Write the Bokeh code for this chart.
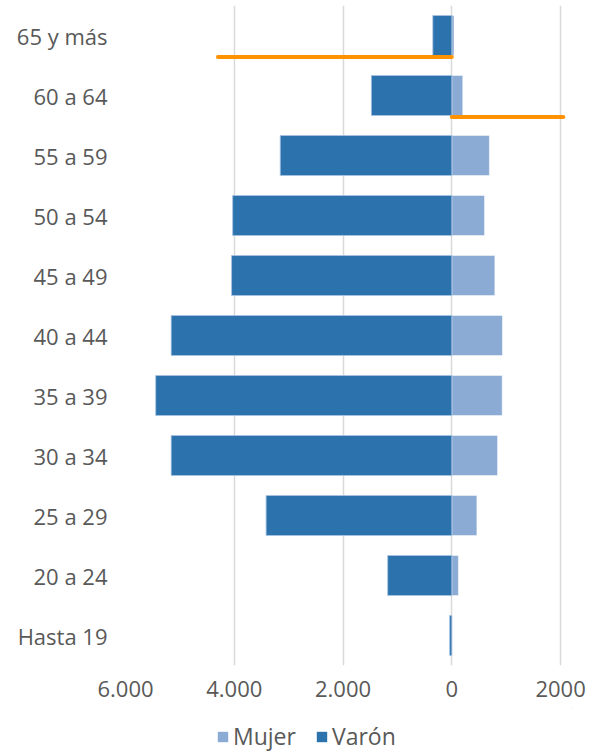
from bokeh.plotting import figure
from bokeh.models import ColumnDataSource, FactorRange, Legend, LegendItem, FixedTicker, Range1d
from bokeh.layouts import column
from bokeh.transform import dodge
from bokeh.embed import file_html
from bokeh.resources import INLINE

# Data
categories = ["Hasta 19", "20 a 24", "25 a 29", "30 a 34", "35 a 39", "40 a 44",
              "45 a 49", "50 a 54", "55 a 59", "60 a 64", "65 y más"]
varon = [40, 1180, 3415, 5160, 5445, 5160, 4050, 4030, 3155, 1480, 350]
mujer = [0, 120, 460, 840, 925, 930, 790, 600, 690, 200, 40]

x_ticks = [-6000, -4000, -2000, 0, 2000]
x_tick_labels = ["6.000", "4.000", "2.000", "0", "2000"]

orange_cats = ["65 y más", "60 a 64"]
orange_start = [-4300, 0]
orange_end = [0, 2050]

series_names = ["Mujer", "Varón"]

FONT = "Open Sans"
TXT = "#595959"
C_VARON = "#2C73AD"
C_MUJER = "#8BAAD4"
C_ORANGE = "#FF9200"

src = ColumnDataSource(dict(cat=categories,
                            varon_neg=[-v for v in varon],
                            mujer=mujer))
osrc = ColumnDataSource(dict(cat=orange_cats, x0=orange_start, x1=orange_end))

p = figure(frame_width=446, frame_height=660, output_backend="svg", toolbar_location=None,
           y_range=FactorRange(factors=categories, range_padding=0),
           x_range=Range1d(-6000, 2200),
           min_border_left=125, min_border_right=18, min_border_top=5, min_border_bottom=42,
           outline_line_color=None)

p.hbar(y="cat", left=0, right="mujer", height=0.667, source=src,
       fill_color=C_MUJER, line_color="white", line_alpha=0.45, line_width=1)
p.hbar(y="cat", left="varon_neg", right=0, height=0.667, source=src,
       fill_color=C_VARON, line_color="#A9C3E2", line_alpha=0.8, line_width=1)

p.segment(x0="x0", x1="x1",
          y0=dodge("cat", -0.36, range=p.y_range),
          y1=dodge("cat", -0.36, range=p.y_range),
          source=osrc, line_color=C_ORANGE, line_width=4, line_cap="round")

# axes
p.xaxis.ticker = FixedTicker(ticks=x_ticks)
p.xaxis.major_label_overrides = {t: l for t, l in zip(x_ticks, x_tick_labels)}
for ax in (p.xaxis[0], p.yaxis[0]):
    ax.axis_line_color = None
    ax.major_tick_line_color = None
    ax.minor_tick_line_color = None
    ax.major_tick_out = 0
    ax.major_tick_in = 0
    ax.major_label_text_font = FONT
    ax.major_label_text_font_size = "22px"
    ax.major_label_text_color = TXT
p.xaxis.major_label_standoff = 15
p.yaxis.major_label_standoff = 18

p.xgrid.ticker = FixedTicker(ticks=x_ticks)
p.xgrid.grid_line_color = "#D9D9D9"
p.xgrid.grid_line_width = 1.5
p.ygrid.grid_line_color = None

# legend in its own strip below the chart (swatch renderers sit outside the visible range)
lg = figure(width=589, height=45, output_backend="svg", toolbar_location=None,
            x_range=Range1d(0, 1), y_range=Range1d(0, 1),
            min_border_left=0, min_border_right=0, min_border_top=0, min_border_bottom=0,
            outline_line_color=None)
lg.axis.visible = False
lg.grid.visible = False
swatch = ColumnDataSource(dict(y=[5], left=[5], right=[6]))
lm = lg.hbar(y="y", left="left", right="right", height=0.5, source=swatch,
             fill_color=C_MUJER, line_color=None)
lv = lg.hbar(y="y", left="left", right="right", height=0.5, source=swatch,
             fill_color=C_VARON, line_color=None)
legend = Legend(items=[LegendItem(label=series_names[0], renderers=[lm]),
                       LegendItem(label=series_names[1], renderers=[lv])],
                orientation="horizontal", location=(91, 0),
                label_text_font=FONT, label_text_font_size="23px",
                label_text_color=TXT, glyph_width=13, glyph_height=13,
                label_standoff=4, spacing=19, padding=0, margin=0,
                border_line_color=None, background_fill_alpha=0)
lg.add_layout(legend, "center")

layout = column(p, lg, spacing=0)
open("out.html", "w").write(file_html(layout, INLINE))
